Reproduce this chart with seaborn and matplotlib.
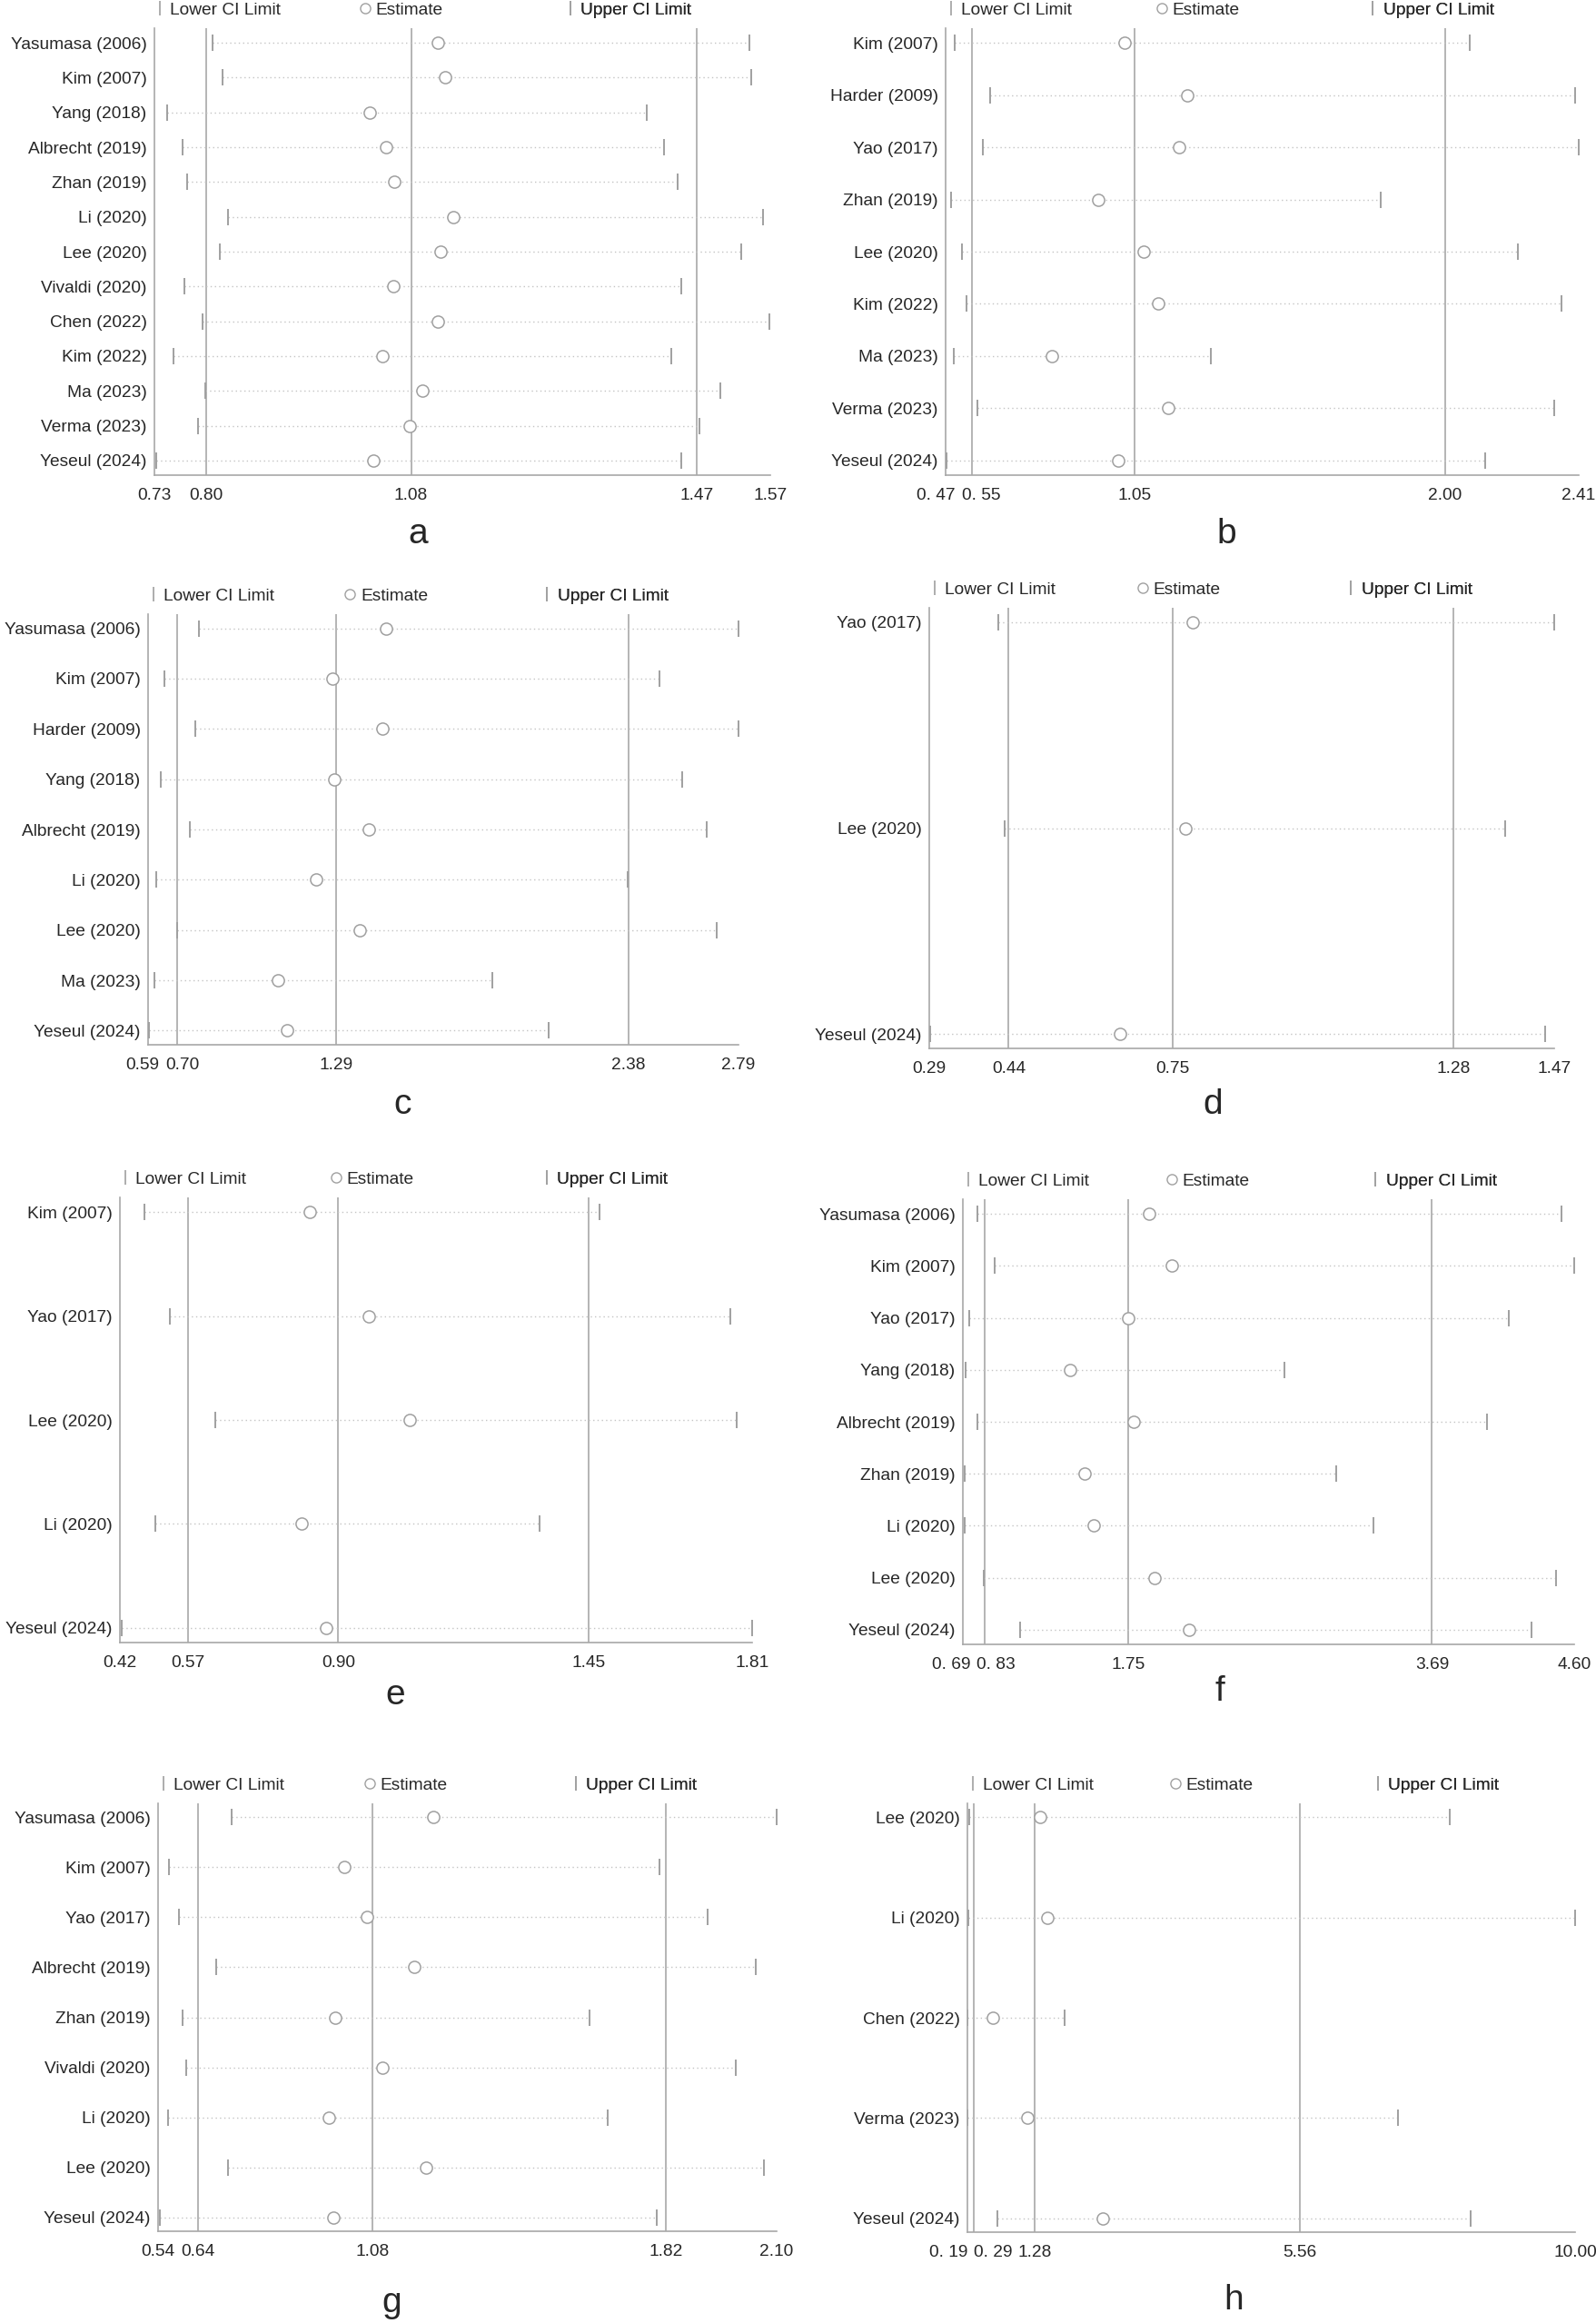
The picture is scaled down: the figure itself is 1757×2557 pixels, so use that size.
import numpy as np
import pandas as pd
import matplotlib
matplotlib.use("Agg")
import matplotlib.pyplot as plt
import seaborn as sns
from matplotlib.lines import Line2D

# ============================================================
# Data : leave-one-out sensitivity analysis, panels a - h
# ============================================================

studies_a = ["Yasumasa (2006)", "Kim (2007)", "Yang (2018)", "Albrecht (2019)", "Zhan (2019)",
             "Li (2020)", "Lee (2020)", "Vivaldi (2020)", "Chen (2022)", "Kim (2022)",
             "Ma (2023)", "Verma (2023)", "Yeseul (2024)"]
lower_a = [0.809, 0.823, 0.747, 0.768, 0.774, 0.830, 0.819, 0.771, 0.796, 0.756, 0.799, 0.789, 0.732]
est_a = [1.117, 1.127, 1.024, 1.046, 1.057, 1.138, 1.120, 1.056, 1.117, 1.041, 1.095, 1.078, 1.028]
upper_a = [1.541, 1.544, 1.402, 1.425, 1.444, 1.560, 1.530, 1.448, 1.569, 1.435, 1.502, 1.473, 1.448]
ticks_a = [0.73, 0.80, 1.08, 1.47, 1.57]
ticklabels_a = ["0.73", "0.80", "1.08", "1.47", "1.57"]

studies_b = ["Kim (2007)", "Harder (2009)", "Yao (2017)", "Zhan (2019)", "Lee (2020)",
             "Kim (2022)", "Ma (2023)", "Verma (2023)", "Yeseul (2024)"]
lower_b = [0.498, 0.606, 0.583, 0.487, 0.520, 0.533, 0.495, 0.567, 0.472]
est_b = [1.018, 1.209, 1.186, 0.938, 1.076, 1.121, 0.797, 1.151, 0.999]
upper_b = [2.075, 2.399, 2.410, 1.803, 2.224, 2.357, 1.283, 2.335, 2.122]
ticks_b = [0.47, 0.55, 1.05, 2.00, 2.41]
ticklabels_b = ["0. 47", "0. 55", "1.05", "2.00", "2.41"]

studies_c = ["Yasumasa (2006)", "Kim (2007)", "Harder (2009)", "Yang (2018)", "Albrecht (2019)",
             "Li (2020)", "Lee (2020)", "Ma (2023)", "Yeseul (2024)"]
lower_c = [0.779, 0.651, 0.765, 0.638, 0.746, 0.620, 0.700, 0.615, 0.594]
est_c = [1.476, 1.276, 1.462, 1.283, 1.411, 1.215, 1.379, 1.074, 1.108]
upper_c = [2.790, 2.495, 2.790, 2.581, 2.672, 2.377, 2.710, 1.874, 2.083]
ticks_c = [0.59, 0.70, 1.29, 2.38, 2.79]
ticklabels_c = ["0.59", "0.70", "1.29", "2.38", "2.79"]

studies_d = ["Yao (2017)", "Lee (2020)", "Yeseul (2024)"]
lower_d = [0.421, 0.432, 0.292]
est_d = [0.788, 0.773, 0.650]
upper_d = [1.470, 1.378, 1.453]
ticks_d = [0.29, 0.44, 0.75, 1.28, 1.47]
ticklabels_d = ["0.29", "0.44", "0.75", "1.28", "1.47"]

studies_e = ["Kim (2007)", "Yao (2017)", "Lee (2020)", "Li (2020)", "Yeseul (2024)"]
lower_e = [0.474, 0.530, 0.629, 0.498, 0.424]
est_e = [0.837, 0.968, 1.057, 0.819, 0.874]
upper_e = [1.474, 1.762, 1.776, 1.343, 1.810]
ticks_e = [0.42, 0.57, 0.90, 1.45, 1.81]
ticklabels_e = ["0.42", "0.57", "0.90", "1.45", "1.81"]

studies_f = ["Yasumasa (2006)", "Kim (2007)", "Yao (2017)", "Yang (2018)", "Albrecht (2019)",
             "Zhan (2019)", "Li (2020)", "Lee (2020)", "Yeseul (2024)"]
lower_f = [0.782, 0.893, 0.729, 0.706, 0.785, 0.700, 0.703, 0.821, 1.056]
est_f = [1.881, 2.028, 1.750, 1.377, 1.780, 1.469, 1.528, 1.917, 2.139]
upper_f = [4.521, 4.600, 4.181, 2.748, 4.041, 3.075, 3.317, 4.482, 4.329]
ticks_f = [0.69, 0.83, 1.75, 3.69, 4.60]
ticklabels_f = ["0. 69", "0. 83", "1.75", "3.69", "4.60"]

studies_g = ["Yasumasa (2006)", "Kim (2007)", "Yao (2017)", "Albrecht (2019)", "Zhan (2019)",
             "Vivaldi (2020)", "Li (2020)", "Lee (2020)", "Yeseul (2024)"]
lower_g = [0.725, 0.567, 0.593, 0.687, 0.601, 0.612, 0.565, 0.716, 0.544]
est_g = [1.233, 1.010, 1.067, 1.185, 0.987, 1.105, 0.970, 1.216, 0.983]
upper_g = [2.100, 1.805, 1.925, 2.047, 1.629, 1.997, 1.673, 2.067, 1.798]
ticks_g = [0.54, 0.64, 1.08, 1.82, 2.10]
ticklabels_g = ["0.54", "0.64", "1.08", "1.82", "2.10"]

studies_h = ["Lee (2020)", "Li (2020)", "Chen (2022)", "Verma (2023)", "Yeseul (2024)"]
lower_h = [0.223, 0.206, 0.190, 0.190, 0.669]
est_h = [1.370, 1.485, 0.594, 1.164, 2.376]
upper_h = [7.979, 10.000, 1.758, 7.146, 8.309]
ticks_h = [0.19, 0.29, 1.28, 5.56, 10.00]
ticklabels_h = ["0. 19", "0. 29", "1.28", "5.56", "10.00"]

# ============================================================
# Style
# ============================================================

sns.set_style("white")
plt.rcParams["font.family"] = ["Liberation Sans", "DejaVu Sans"]

LINE_GRAY = "#a8a8a8"
CAP_GRAY = "#a0a0a0"
DOT_GRAY = "#c4c4c4"
FS = 13.8

W, H = 1758, 2557
fig = plt.figure(figsize=(W / 100, H / 100), dpi=100)
renderer = fig.canvas.get_renderer()

# panel boxes in pixels: left, right, top, bottom
boxes = {
    "a": (170, 848, 31, 523),
    "b": (1041, 1738, 31, 523),
    "c": (163, 813, 676, 1150),
    "d": (1023, 1711, 669, 1154),
    "e": (132, 828, 1318, 1808),
    "f": (1060, 1733, 1320, 1810),
    "g": (174, 855, 1985, 2456),
    "h": (1065, 1734, 1985, 2457),
}
letter_pos = {
    "a": (460, 588), "b": (1350, 588), "c": (443, 1216), "d": (1335, 1216),
    "e": (435, 1866), "f": (1343, 1862), "g": (431, 2535), "h": (1358, 2532),
}

panels = {
    "a": (studies_a, lower_a, est_a, upper_a, ticks_a, ticklabels_a),
    "b": (studies_b, lower_b, est_b, upper_b, ticks_b, ticklabels_b),
    "c": (studies_c, lower_c, est_c, upper_c, ticks_c, ticklabels_c),
    "d": (studies_d, lower_d, est_d, upper_d, ticks_d, ticklabels_d),
    "e": (studies_e, lower_e, est_e, upper_e, ticks_e, ticklabels_e),
    "f": (studies_f, lower_f, est_f, upper_f, ticks_f, ticklabels_f),
    "g": (studies_g, lower_g, est_g, upper_g, ticks_g, ticklabels_g),
    "h": (studies_h, lower_h, est_h, upper_h, ticks_h, ticklabels_h),
}


def draw_panel(ax, studies, lower, est, upper, ticks, ticklabels, width_px, height_px):
    df = pd.DataFrame({"study": studies, "lower": lower, "est": est, "upper": upper})
    df["row"] = np.arange(len(df))

    # reference lines at pooled CI and estimate
    for t in ticks[1:4]:
        ax.axvline(t, color=LINE_GRAY, lw=1.2, zorder=1)

    # dotted CI ranges
    ax.hlines(df["row"], df["lower"], df["upper"], colors=DOT_GRAY,
              linestyles=(0, (1, 2.4)), lw=1.0, zorder=2)

    # CI limit caps
    sns.scatterplot(data=df, x="lower", y="row", marker="|", s=150, color=CAP_GRAY,
                    linewidth=1.4, ax=ax, zorder=3, legend=False)
    sns.scatterplot(data=df, x="upper", y="row", marker="|", s=150, color=CAP_GRAY,
                    linewidth=1.4, ax=ax, zorder=3, legend=False)

    # estimates
    sns.scatterplot(data=df, x="est", y="row", marker="o", s=90, facecolor="white",
                    edgecolor=CAP_GRAY, linewidth=1.1, ax=ax, zorder=4, legend=False)

    n = len(df)
    pad = 0.035 * (n - 1)
    ax.set_ylim(n - 1 + pad, -pad)
    ax.set_xlim(ticks[0], ticks[-1])

    ax.set_yticks(df["row"])
    ax.set_yticklabels(df["study"], fontsize=FS)
    ax.set_xticks(ticks)
    ax.set_xticklabels([])
    ax.set_xlabel("")
    ax.set_ylabel("")

    ax.tick_params(axis="y", length=0, pad=6)
    ax.tick_params(axis="x", length=7, width=1.0, color=LINE_GRAY, direction="out")

    for side in ["top", "right"]:
        ax.spines[side].set_visible(False)
    for side in ["left", "bottom"]:
        ax.spines[side].set_color(LINE_GRAY)
        ax.spines[side].set_linewidth(1.2)

    # x tick labels, pushed apart where the first two would collide
    px_to_data = (ticks[-1] - ticks[0]) / width_px
    y_lab = -14 / height_px
    texts = [ax.text(t, y_lab, lab, transform=ax.get_xaxis_transform(), ha="center",
                     va="top", fontsize=FS) for t, lab in zip(ticks, ticklabels)]
    b0 = texts[0].get_window_extent(renderer)
    b1 = texts[1].get_window_extent(renderer)
    overlap = b0.x1 + 7 - b1.x0
    if overlap > 0:
        texts[0].set_x(ticks[0] - overlap / 2 * px_to_data)
        texts[1].set_x(ticks[1] + overlap / 2 * px_to_data)

    # legend above the plot, three entries at thirds of the width
    cap_handle = Line2D([], [], marker="|", linestyle="none", color=CAP_GRAY,
                        markersize=11, markeredgewidth=1.2)
    est_handle = Line2D([], [], marker="o", linestyle="none", markerfacecolor="white",
                        markeredgecolor=CAP_GRAY, markersize=8, markeredgewidth=1.0)
    y_leg = 1 + 20 / height_px
    entries = [(0.0, cap_handle, "Lower CI Limit"),
               (1 / 3, est_handle, "Estimate"),
               (2 / 3, cap_handle, "Upper CI Limit")]
    for frac, handle, label in entries:
        leg = ax.legend(handles=[handle], labels=[label], loc="center left",
                        bbox_to_anchor=(frac, y_leg), frameon=False, fontsize=FS,
                        handlelength=0.6, handletextpad=0.3, borderaxespad=0,
                        borderpad=0)
        ax.add_artist(leg)


for key, (l, r, t, b) in boxes.items():
    ax = fig.add_axes([l / W, 1 - b / H, (r - l) / W, (b - t) / H])
    draw_panel(ax, *panels[key], width_px=r - l, height_px=b - t)
    lx, ly = letter_pos[key]
    fig.text(lx / W, 1 - ly / H, key, ha="center", va="center", fontsize=28)

fig.savefig("out.png", dpi=100, facecolor="white")
